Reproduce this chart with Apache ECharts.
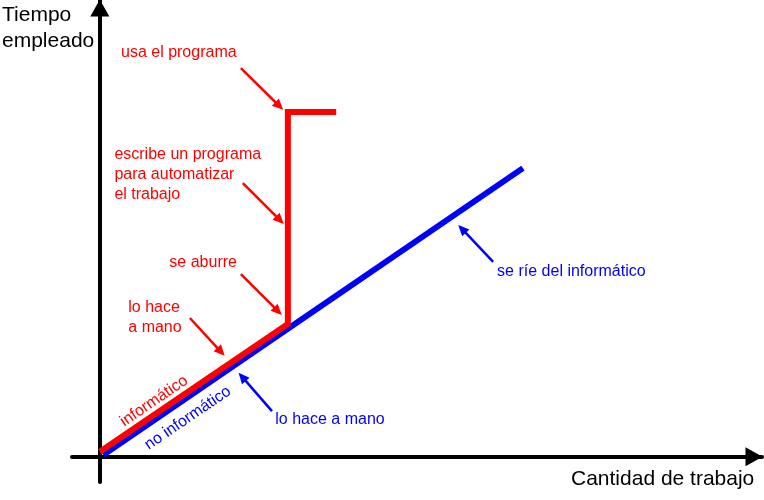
<!DOCTYPE html>
<html>
<head>
<meta charset="utf-8">
<script src="https://cdn.jsdelivr.net/npm/echarts@6/dist/echarts.min.js"></script>
<style>
  html, body { margin: 0; padding: 0; background: #fff; }
  #chart { width: 764px; height: 500px; }
</style>
</head>
<body>
<div id="chart"></div>
<script>
// values in abstract "work" / "time" units
const redPath = [[0, 0.11], [2.84, 2.91], [2.84, 7.55], [3.57, 7.55]]
const bluePath = [[0.05, 0.04], [6.39, 6.32]]

const redNotes = ['usa el programa', 'escribe un programa\npara automatizar\nel trabajo', 'se aburre', 'lo hace\na mano']
const redNoteAt = [[0.32, 8.84], [0.22, 6.18], [1.05, 4.25], [0.43, 3.05]]
const redArrows = [
  [[2.13, 8.51], [2.71, 7.68]],
  [[2.16, 5.99], [2.72, 5.18]],
  [[2.13, 4.00], [2.69, 3.19]],
  [[1.36, 3.04], [1.83, 2.30]]
]

const blueNotes = ['se ríe del informático', 'lo hace a mano']
const blueNoteAt = [[6.0, 4.06], [2.65, 0.82]]
const blueArrows = [
  [[5.94, 4.27], [5.47, 4.99]],
  [[2.60, 1.00], [2.15, 1.75]]
]

const lineNames = ['informático', 'no informático']
const lineNameAt = [[0.82, 1.22], [1.33, 0.85]]

const xTitle = 'Cantidad de trabajo'
const yTitle = 'Tiempo\nempleado'

const RED = '#ff0000'
const BLUE = '#0000ff'
const FONT = 'Liberation Sans, Arial, sans-serif'

const chart = echarts.init(document.getElementById('chart'))

const axisCommon = {
  type: 'value',
  axisTick: { show: false },
  axisLabel: { show: false },
  splitLine: { show: false },
  axisLine: {
    onZero: true,
    symbol: ['none', 'triangle'],
    symbolSize: [19, 17],
    symbolOffset: [0, -8],
    lineStyle: { color: '#000', width: 4 }
  }
}

const noteItems = (texts, at, color) => texts.map((t, i) => ({
  value: at[i],
  label: {
    show: true,
    formatter: t,
    position: 'inside',
    align: 'left',
    verticalAlign: 'middle',
    color,
    fontSize: 16,
    lineHeight: 20,
    fontFamily: FONT
  }
}))

const arrowLines = (arr) => arr.map(a => [{ coord: a[0] }, { coord: a[1] }])

const arrowMark = (color, arr) => ({
  silent: true,
  symbol: ['none', 'triangle'],
  symbolSize: [10, 11],
  label: { show: false },
  emphasis: { disabled: true },
  itemStyle: { color },
  lineStyle: { color, width: 2.5, type: 'solid', opacity: 1 },
  data: arrowLines(arr)
})

chart.setOption({
  animation: false,
  grid: { left: 72, right: 2, top: 0, bottom: 18, outerBoundsMode: 'none' },
  xAxis: Object.assign({}, axisCommon, { min: -0.42, max: 10 }),
  yAxis: Object.assign({}, axisCommon, { min: -0.55, max: 10 }),
  graphic: [
    {
      type: 'text', left: 2, top: 2,
      style: { text: yTitle, fill: '#000', fontSize: 21, lineHeight: 26, fontFamily: FONT }
    },
    {
      type: 'text', left: 571, top: 469,
      style: { text: xTitle, fill: '#000', fontSize: 21, lineHeight: 21, fontFamily: FONT }
    }
  ],
  series: [
    {
      type: 'line',
      data: bluePath,
      symbol: 'none',
      silent: true,
      lineStyle: { color: BLUE, width: 6, cap: 'butt' },
      markLine: arrowMark(BLUE, blueArrows)
    },
    {
      type: 'line',
      data: redPath,
      symbol: 'none',
      silent: true,
      lineStyle: { color: RED, width: 6, cap: 'butt', join: 'miter' },
      markLine: arrowMark(RED, redArrows)
    },
    {
      type: 'scatter',
      symbolSize: 0,
      silent: true,
      itemStyle: { opacity: 1 },
      data: noteItems(redNotes, redNoteAt, RED).concat(noteItems(blueNotes, blueNoteAt, BLUE))
    },
    {
      type: 'scatter',
      symbolSize: 0,
      silent: true,
      itemStyle: { opacity: 1 },
      data: lineNames.map((t, i) => ({
        value: lineNameAt[i],
        label: {
          show: true,
          formatter: t,
          position: 'inside',
          align: 'center',
          verticalAlign: 'middle',
          rotate: 34.3,
          color: i === 0 ? RED : BLUE,
          fontSize: 16,
          fontFamily: FONT
        }
      }))
    }
  ]
})
</script>
</body>
</html>
